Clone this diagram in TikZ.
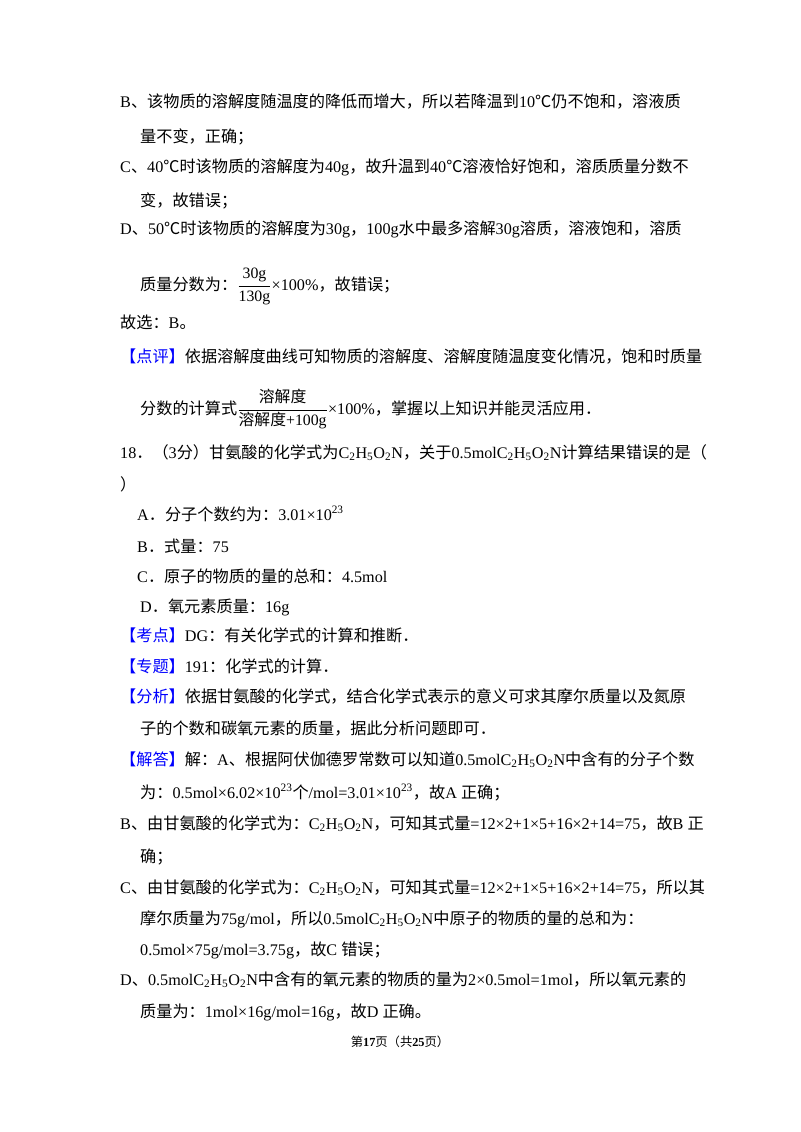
\documentclass[tikz,border=0pt]{standalone}
\usepackage{fontspec}
\usepackage{xcolor}
\setmainfont{Liberation Serif}
\newfontfamily\cjk{Noto Sans CJK SC}
\newfontfamily\latin{Liberation Serif}
% switch fonts between CJK and Latin characters
\XeTeXinterchartokenstate=1
\newXeTeXintercharclass\cjkclass
\makeatletter
\count@="4E00 \loop\ifnum\count@<"A000 \XeTeXcharclass\count@=\cjkclass \advance\count@ 1 \repeat
\count@="3000 \loop\ifnum\count@<"3040 \XeTeXcharclass\count@=\cjkclass \advance\count@ 1 \repeat
\count@="FF00 \loop\ifnum\count@<"FFF0 \XeTeXcharclass\count@=\cjkclass \advance\count@ 1 \repeat
\makeatother
\XeTeXcharclass"2103=\cjkclass
\XeTeXinterchartoks 0 \cjkclass={\cjk}
\XeTeXinterchartoks 4095 \cjkclass={\cjk}
\XeTeXinterchartoks \cjkclass 0={\latin}
\XeTeXinterchartoks 4095 0={\latin}
\newcommand\gly{C\textsubscript{2}H\textsubscript{5}O\textsubscript{2}N}
\newcommand\tag[1]{\textcolor{blue}{【#1】}}
\newcommand\tfrac[2]{$\displaystyle\frac{\hbox{\fontsize{13.5}{14}\selectfont #1}}{\hbox{\fontsize{13.5}{14}\selectfont #2}}$}
\begin{document}
\begin{tikzpicture}[x=0.03cm, y=-0.03cm,
    line/.style={anchor=base west, inner sep=0pt, font=\fontsize{13.8}{17}\selectfont},
    foot/.style={anchor=base, inner sep=0pt, font=\fontsize{10.5}{13}\selectfont}]
    \useasboundingbox (0,0) rectangle (800,1132);
    % Option B to D of question 17
    \node[line] (l1) at (120,108) {B、该物质的溶解度随温度的降低而增大，所以若降温到10℃仍不饱和，溶液质};
    \node[line] (l2) at (140,143) {量不变，正确；};
    \node[line] (l3) at (120,173) {C、40℃时该物质的溶解度为40g，故升温到40℃溶液恰好饱和，溶质质量分数不};
    \node[line] (l4) at (140,207) {变，故错误；};
    \node[line] (l5) at (120,235) {D、50℃时该物质的溶解度为30g，100g水中最多溶解30g溶质，溶液饱和，溶质};
    \node[line] (l6) at (140,290) {质量分数为：\tfrac{30g}{130g}×100\%，故错误；};
    \node[line] (l7) at (120,328) {故选：B。};
    \node[line] (l8) at (120,362) {\tag{点评}依据溶解度曲线可知物质的溶解度、溶解度随温度变化情况，饱和时质量};
    \node[line] (l9) at (140,414) {分数的计算式\tfrac{溶解度}{溶解度+100g}×100\%，掌握以上知识并能灵活应用．};
    % Question 18
    \node[line] (q1) at (120,458) {18．（3分）甘氨酸的化学式为\gly，关于0.5mol\gly 计算结果错误的是（};
    \node[line] (q2) at (120,490) {）};
    \node[line] (qa) at (137,520) {A．分子个数约为：3.01×10\textsuperscript{23}};
    \node[line] (qb) at (137,552) {B．式量：75};
    \node[line] (qc) at (137,582) {C．原子的物质的量的总和：4.5mol};
    \node[line] (qd) at (140,612) {D．氧元素质量：16g};
    \node[line] (k1) at (120,641) {\tag{考点}DG：有关化学式的计算和推断．};
    \node[line] (k2) at (120,672) {\tag{专题}191：化学式的计算．};
    \node[line] (k3) at (120,702) {\tag{分析}依据甘氨酸的化学式，结合化学式表示的意义可求其摩尔质量以及氮原};
    \node[line] (k4) at (140,734) {子的个数和碳氧元素的质量，据此分析问题即可．};
    \node[line] (s1) at (120,765) {\tag{解答}解：A、根据阿伏伽德罗常数可以知道0.5mol\gly 中含有的分子个数};
    \node[line] (s2) at (140,798) {为：0.5mol×6.02×10\textsuperscript{23}个/mol=3.01×10\textsuperscript{23}，故A 正确；};
    \node[line] (s3) at (120,829) {B、由甘氨酸的化学式为：\gly，可知其式量=12×2+1×5+16×2+14=75，故B 正};
    \node[line] (s4) at (140,862) {确；};
    \node[line] (s5) at (120,893) {C、由甘氨酸的化学式为：\gly，可知其式量=12×2+1×5+16×2+14=75，所以其};
    \node[line] (s6) at (140,924) {摩尔质量为75g/mol，所以0.5mol\gly 中原子的物质的量的总和为：};
    \node[line] (s7) at (140,955) {0.5mol×75g/mol=3.75g，故C 错误；};
    \node[line] (s8) at (120,985) {D、0.5mol\gly 中含有的氧元素的物质的量为2×0.5mol=1mol，所以氧元素的};
    \node[line] (s9) at (140,1017) {质量为：1mol×16g/mol=16g，故D 正确。};
    % Footer
    \node[foot] (page) at (400,1046) {第\textbf{17}页（共\textbf{25}页）};
\end{tikzpicture}
\end{document}
